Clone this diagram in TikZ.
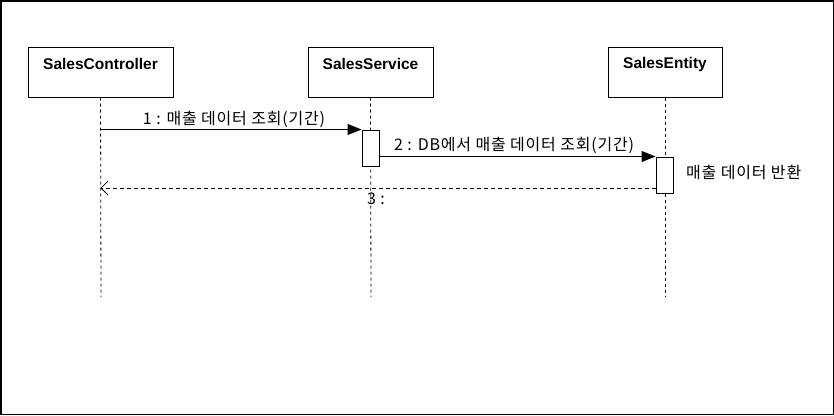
\documentclass[tikz,border=0pt]{standalone}
\usepackage{fontspec}
\setmainfont{Liberation Sans}
\newfontfamily\kr[LetterSpace=5]{Noto Sans CJK KR}
\usetikzlibrary{arrows.meta}
\begin{document}
\begin{tikzpicture}[x=1pt,y=-1pt,
  objbox/.style={draw,line width=1pt,minimum width=#1,minimum height=50pt,inner sep=0pt},
  objname/.style={font=\fontsize{15.5}{17}\selectfont\bfseries,inner sep=0pt},
  lifeline/.style={line width=0.8pt,dash pattern=on 3pt off 3pt},
  actbox/.style={draw,fill=white,line width=1pt,minimum width=17pt,minimum height=36pt,inner sep=0pt},
  msg/.style={line width=1pt,-{Triangle[length=14pt,width=11pt]}},
  retmsg/.style={line width=0.8pt,dash pattern=on 4pt off 3pt,-{Straight Barb[length=7pt,width=14pt,line width=0.8pt]}},
  msglabel/.style={font=\kr\fontsize{16}{18}\selectfont,inner sep=0pt}]
\useasboundingbox (0,0) rectangle (834,415);
\draw[line width=1.5pt] (0.75,0.75) rectangle (833.25,414.25);
% objects
\node[objbox=145pt] (c) at (100.5,72) {};
\node[objbox=125pt] (s) at (370.5,72) {};
\node[objbox=114pt] (e) at (665,72) {};
\node[objname] (cn) at (100.5,64) {SalesController};
\node[objname] (sn) at (370.5,64) {SalesService};
\node[objname] (en) at (665,64) {SalesEntity};
% lifeline ends
\coordinate (ce) at (101,297);
\coordinate (se) at (371,297);
\coordinate (ee) at (665,297);
\draw[lifeline] (c.south) -- (ce);
\draw[lifeline] (s.south) -- (se);
\draw[lifeline] (e.south) -- (ee);
% activations
\node[actbox] (a1) at (370.5,148) {};
\node[actbox] (a2) at (664.5,175) {};
% messages
\draw[msg] (c.south |- a1.north west) -- (a1.north west);
\node[msglabel] (l1) at (234,119) {1 : 매출 데이터 조회(기간)};
\draw[msg] (a1.east |- a2.north) -- (a2.north west);
\node[msglabel,anchor=west] (l2) at (394,145) {2 : DB에서 매출 데이터 조회(기간)};
\coordinate (r) at (0,188);
\draw[retmsg] (a2.west |- r) -- (c.south |- r);
\node[msglabel] (l3) at (376,199) {3 :};
\node[msglabel,anchor=west] (lr) at (686,172) {매출 데이터 반환};
\end{tikzpicture}
\end{document}
